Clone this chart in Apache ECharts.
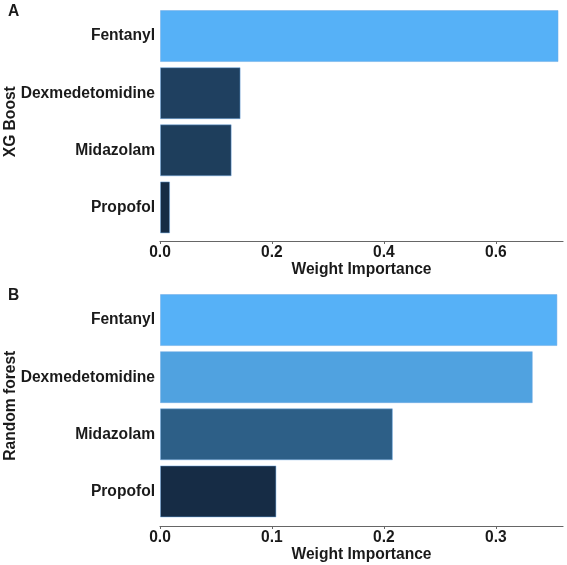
<!DOCTYPE html>
<html>
<head>
<meta charset="utf-8">
<script src="https://cdn.jsdelivr.net/npm/echarts@6/dist/echarts.min.js"></script>
<style>
  html, body { margin: 0; padding: 0; background: #fff; }
  #chart { width: 567px; height: 565px; }
</style>
</head>
<body>
<div id="chart"></div>
<script>
// drugs, top to bottom
var drugs = ['Fentanyl', 'Dexmedetomidine', 'Midazolam', 'Propofol'];
// panel A - XG Boost
var xgbValues = [0.712, 0.144, 0.128, 0.018];
// panel B - Random forest
var rfValues = [0.355, 0.333, 0.208, 0.104];

var xgbColors = ['#56B1F7', '#1F4060', '#1E3E5C', '#152C45'];
var rfColors = ['#56B1F7', '#50A2E0', '#2D5F87', '#162C45'];

var font = 'Liberation Sans, Arial, sans-serif';
var txt = '#1a1a1a';

function xAxisOf(gridIndex, max, interval, offset) {
  return {
    gridIndex: gridIndex,
    type: 'value',
    min: 0,
    max: max,
    interval: interval,
    offset: offset,
    name: 'Weight Importance',
    nameLocation: 'middle',
    nameGap: 21,
    nameMoveOverlap: false,
    nameTextStyle: { fontFamily: font, fontWeight: 'bold', fontSize: 15.6, color: txt },
    axisLine: { show: true, lineStyle: { color: '#666', width: 1.2 } },
    axisTick: { show: true, length: 3, lineStyle: { color: '#666' } },
    splitLine: { show: false },
    axisLabel: {
      showMaxLabel: false,
      margin: 4,
      fontFamily: font, fontWeight: 'bold', fontSize: 15.6, color: txt,
      formatter: function (v) { return v.toFixed(1); }
    }
  };
}

function yAxisOf(gridIndex, name) {
  return {
    gridIndex: gridIndex,
    type: 'category',
    data: drugs,
    inverse: true,
    name: name,
    nameLocation: 'middle',
    nameGap: 141,
    nameMoveOverlap: false,
    nameTextStyle: { fontFamily: font, fontWeight: 'bold', fontSize: 15.6, color: txt },
    axisLine: { show: false },
    axisTick: { show: false },
    axisLabel: { margin: 5, fontFamily: font, fontWeight: 'bold', fontSize: 15.6, color: txt }
  };
}

function barsOf(idx, values, colors) {
  return {
    type: 'bar',
    xAxisIndex: idx,
    yAxisIndex: idx,
    barCategoryGap: '9%',
    data: values.map(function (v, i) {
      return { value: v, itemStyle: { color: colors[i] } };
    }),
    itemStyle: { borderColor: 'rgba(110,170,230,0.5)', borderWidth: 1 },
    emphasis: { disabled: true }
  };
}

var chart = echarts.init(document.getElementById('chart'));
chart.setOption({
  backgroundColor: '#ffffff',
  animation: false,
  title: [
    { text: 'A', left: 3, top: -1, textStyle: { fontFamily: font, fontWeight: 'bold', fontSize: 15.6, color: txt } },
    { text: 'B', left: 3, top: 283, textStyle: { fontFamily: font, fontWeight: 'bold', fontSize: 15.6, color: txt } }
  ],
  grid: [
    { left: 160, right: 4, top: 7.5, height: 228.5, outerBoundsMode: 'none' },
    { left: 160, right: 4, top: 291.5, height: 228.5, outerBoundsMode: 'none' }
  ],
  xAxis: [
    xAxisOf(0, 0.72, 0.2, 5),
    xAxisOf(1, 0.36, 0.1, 6)
  ],
  yAxis: [
    yAxisOf(0, 'XG Boost'),
    yAxisOf(1, 'Random forest')
  ],
  series: [
    barsOf(0, xgbValues, xgbColors),
    barsOf(1, rfValues, rfColors)
  ]
});
</script>
</body>
</html>
